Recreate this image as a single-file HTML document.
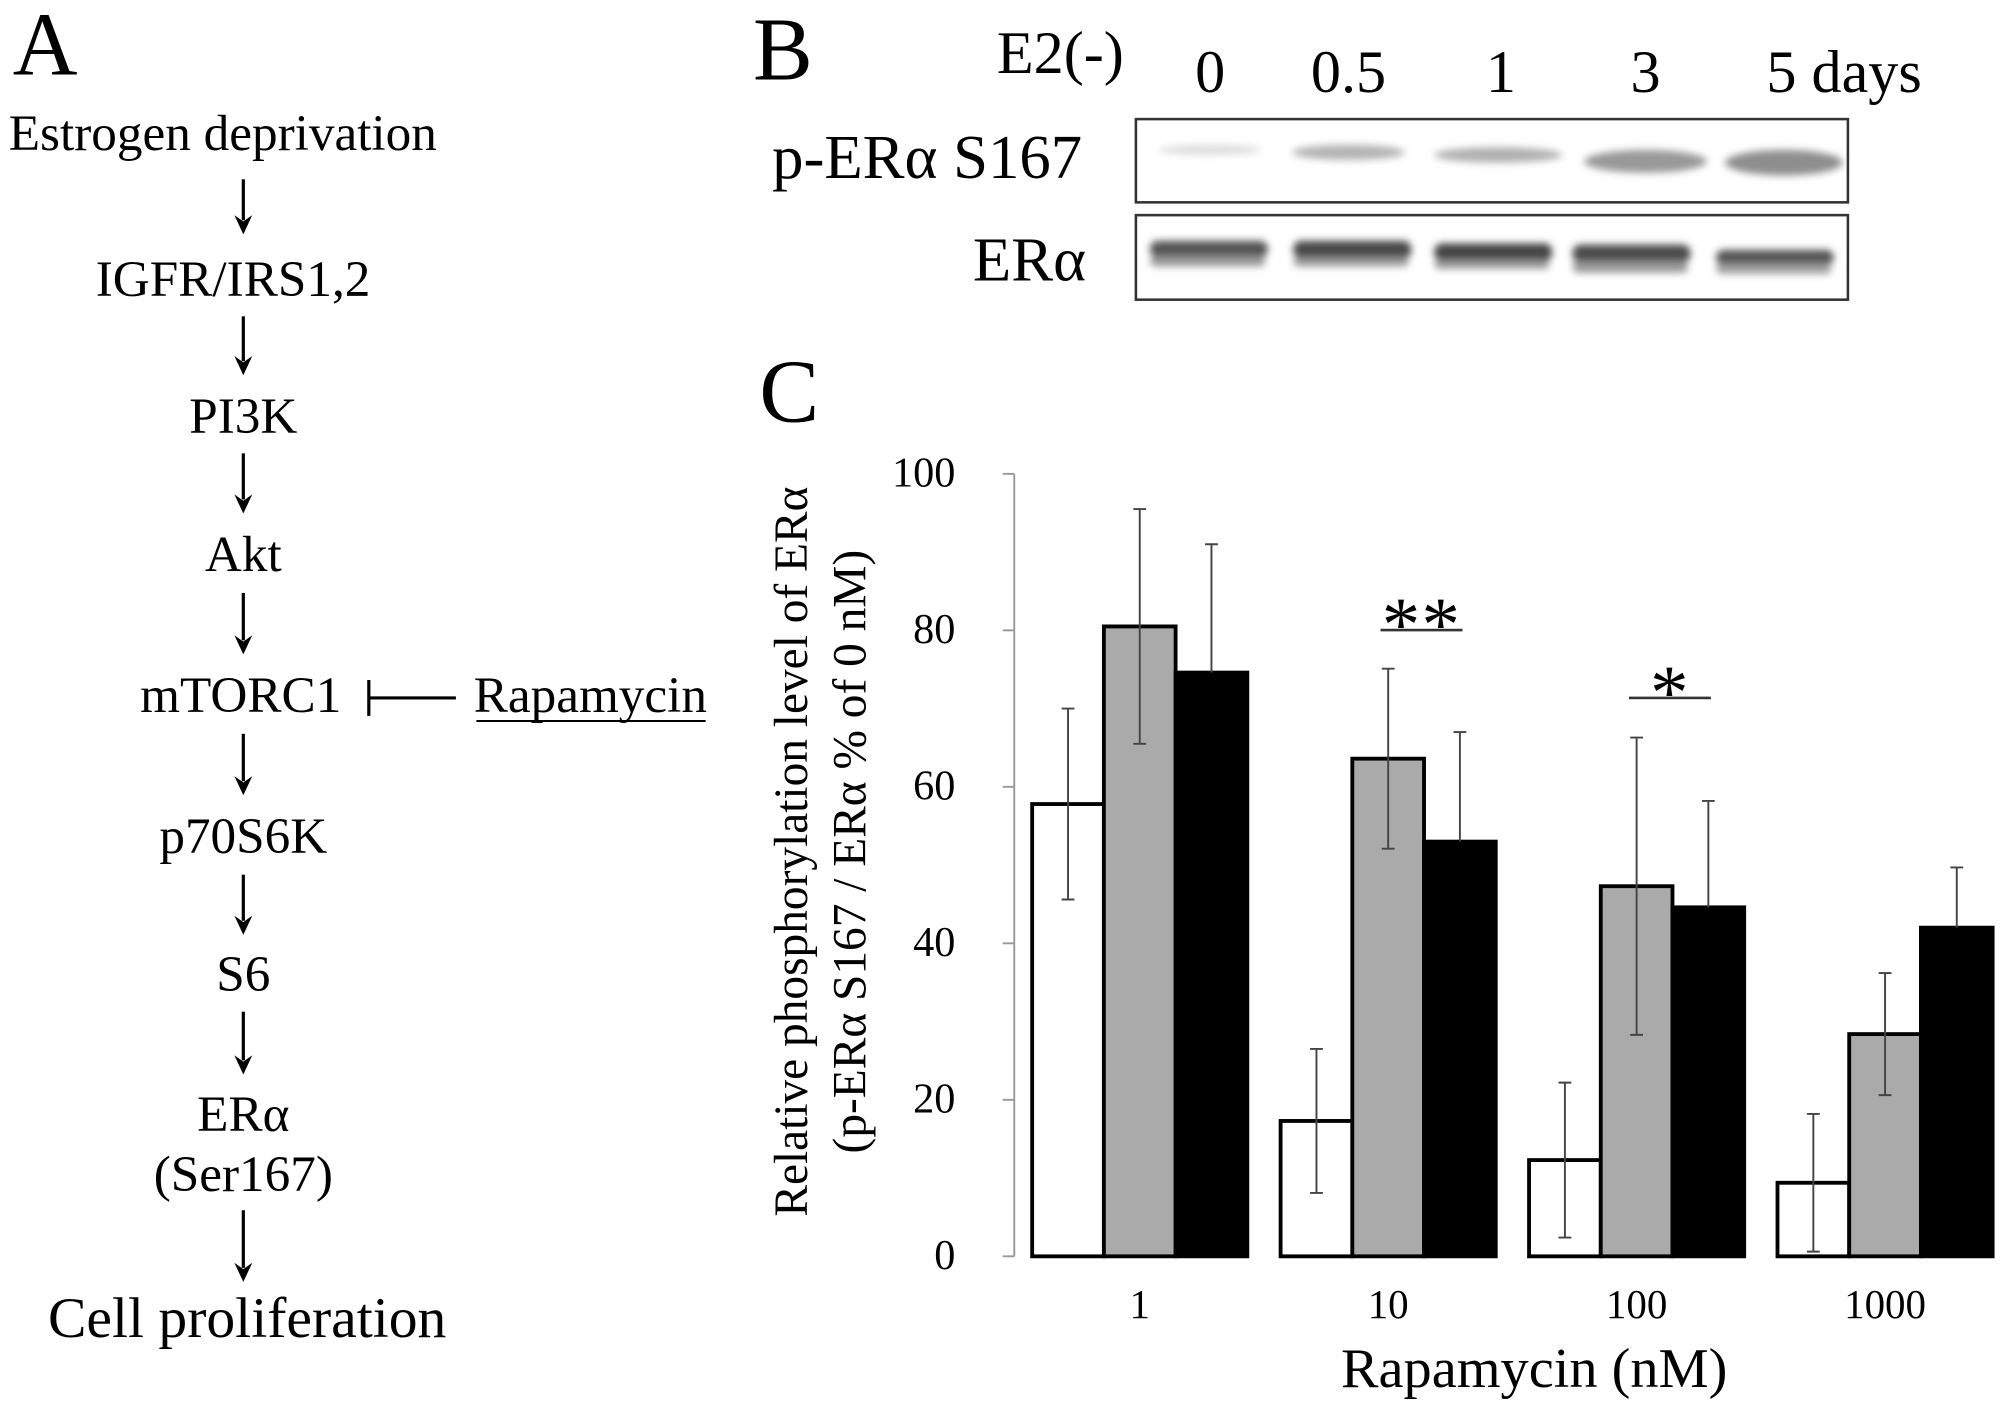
<!DOCTYPE html>
<html><head><meta charset="utf-8"><style>
html,body{margin:0;padding:0;background:#fff;}
svg{display:block;}
svg text{font-family:"Liberation Serif","Times New Roman",serif;}
</style></head><body>
<svg width="2008" height="1410" viewBox="0 0 1568 1101" preserveAspectRatio="none" xmlns="http://www.w3.org/2000/svg" font-family="Liberation Serif, serif">
<defs>
<filter id="blur" x="-20%" y="-50%" width="140%" height="200%"><feGaussianBlur stdDeviation="3"/></filter>
</defs>
<!-- Panel A -->
<g font-size="40" text-anchor="middle">
<text x="10" y="58" font-size="70" text-anchor="start">A</text>
<text x="174" y="117">Estrogen deprivation</text>
<text x="182" y="231">IGFR/IRS1,2</text>
<text x="190" y="338">PI3K</text>
<text x="190" y="446">Akt</text>
<text x="188" y="556">mTORC1</text>
<text x="190" y="666">p70S6K</text>
<text x="190" y="774">S6</text>
<text x="190" y="883">ERα</text>
<text x="190" y="930">(Ser167)</text>
<text x="193" y="1044" font-size="45">Cell proliferation</text>
<g stroke="#000" stroke-width="2.5">
<line x1="190" y1="140" x2="190" y2="172"/><line x1="190" y1="247" x2="190" y2="282"/>
<line x1="190" y1="354" x2="190" y2="390"/><line x1="190" y1="463" x2="190" y2="500"/>
<line x1="190" y1="573" x2="190" y2="610"/><line x1="190" y1="683" x2="190" y2="719"/>
<line x1="190" y1="790" x2="190" y2="828"/><line x1="190" y1="945" x2="190" y2="990"/>
</g>
<g fill="#000" stroke="none">
<path d="M183,168 L190,183 L197,168 L190,173 Z"/><path d="M183,278 L190,293 L197,278 L190,283 Z"/>
<path d="M183,386 L190,401 L197,386 L190,391 Z"/><path d="M183,496 L190,511 L197,496 L190,501 Z"/>
<path d="M183,606 L190,621 L197,606 L190,611 Z"/><path d="M183,715 L190,730 L197,715 L190,720 Z"/>
<path d="M183,824 L190,839 L197,824 L190,829 Z"/><path d="M183,986 L190,1001 L197,986 L190,991 Z"/>
</g>
<g stroke="#000" stroke-width="2.5">
<line x1="288" y1="545" x2="356" y2="545"/><line x1="288" y1="531" x2="288" y2="559"/>
</g>
<text x="461" y="556">Rapamycin</text>
<line x1="372" y1="563" x2="551" y2="563" stroke="#000" stroke-width="1.5"/>
</g>
<!-- Panel B -->
<g>
<text x="588" y="62" font-size="70">B</text>
<g font-size="47" text-anchor="middle">
<text x="828" y="57">E2(-)</text>
<text x="945" y="72">0</text>
<text x="1053" y="72">0.5</text>
<text x="1172" y="72">1</text>
<text x="1285" y="72">3</text>
<text x="1440" y="72">5 days</text>
</g>
<text x="845" y="139" font-size="49" text-anchor="end">p-ERα S167</text>
<text x="848" y="219" font-size="49" text-anchor="end">ERα</text>
<rect x="887" y="93" width="556" height="65" fill="#fff" stroke="#333" stroke-width="2"/>
<rect x="887" y="168" width="556" height="66" fill="#fff" stroke="#333" stroke-width="2"/>
<g filter="url(#blur)">
<ellipse cx="945" cy="117" rx="40" ry="4" fill="#ddd"/>
<ellipse cx="1053" cy="119" rx="44" ry="6" fill="#b4b4b4"/>
<ellipse cx="1170" cy="121" rx="50" ry="6" fill="#b0b0b0"/>
<ellipse cx="1285" cy="126" rx="48" ry="9" fill="#999"/>
<ellipse cx="1393" cy="127" rx="46" ry="10" fill="#8e8e8e"/>
</g>
<g filter="url(#blur)">
<rect x="898" y="188" width="92" height="13" rx="6" fill="#555"/><rect x="898" y="200" width="90" height="8" rx="4" fill="#999"/>
<rect x="1010" y="188" width="92" height="14" rx="6" fill="#4a4a4a"/><rect x="1010" y="201" width="90" height="7" rx="4" fill="#999"/>
<rect x="1120" y="190" width="92" height="14" rx="6" fill="#444"/><rect x="1120" y="203" width="90" height="7" rx="4" fill="#999"/>
<rect x="1228" y="191" width="92" height="14" rx="6" fill="#4c4c4c"/><rect x="1228" y="204" width="90" height="9" rx="4" fill="#999"/>
<rect x="1340" y="195" width="92" height="12" rx="6" fill="#555"/><rect x="1340" y="206" width="90" height="8" rx="4" fill="#a0a0a0"/>
</g>
</g>
<!-- Panel C -->
<text x="593" y="329" font-size="70">C</text>
<g id="chart"></g>
<script>
const categories = ["1", "10", "100", "1000"];
const whiteVals = [57.8, 17.3, 12.3, 9.4];
const whiteErr = [12.2, 9.2, 9.9, 8.8];
const grayVals = [80.5, 63.6, 47.3, 28.4];
const grayErr = [15.0, 11.5, 19.0, 7.8];
const blackVals = [74.6, 53.0, 44.6, 42.0];
const blackErr = [16.4, 14.0, 13.6, 7.7];
const yTicks = [0, 20, 40, 60, 80, 100];
const sigLabels = ["", "**", "*", ""];

(function(){
  const NS = "http://www.w3.org/2000/svg";
  const g = document.getElementById('chart');
  const y0 = 981, y100 = 370;
  const yScale = v => y0 - (y0 - y100) * v / 100;
  const groupX = i => 806 + i * 194;
  const bw = 56;
  function mk(tag, attrs, parent){
    const e = document.createElementNS(NS, tag);
    for (const k in attrs) e.setAttribute(k, attrs[k]);
    (parent || g).appendChild(e);
    return e;
  }
  const axis = mk('line', {x1:792, y1:y100, x2:792, y2:y0, stroke:'#999', 'stroke-width':1.5});
  
  
  yTicks.forEach(t => {
    const y = yScale(t);
    const tk = mk('line', {x1:783, y1:y, x2:792, y2:y, stroke:'#999', 'stroke-width':1.5});
    
    
    const lb = mk('text', {x:746, y:y+10, 'font-size':33, 'text-anchor':'end'});
    lb.textContent = t;
    
    
  });
  const series = [[whiteVals, whiteErr, '#fff'], [grayVals, grayErr, '#aaa'], [blackVals, blackErr, '#000']];
  categories.forEach((c, i) => {
    series.forEach((s, j) => {
      const v = s[0][i], e = s[1][i];
      const x = groupX(i) + j * bw;
      const r = mk('rect', {x:x, y:yScale(v), width:bw, height:y0 - yScale(v), fill:s[2], stroke:'#000', 'stroke-width':3});
      
      
      const cx = x + bw/2;
      const lo = j === 2 ? v : Math.max(0, v - e);
      let d = 'M'+cx+','+yScale(v+e)+' V'+yScale(lo)+' M'+(cx-5)+','+yScale(v+e)+' h10';
      if (j !== 2) d += ' M'+(cx-5)+','+yScale(lo)+' h10';
      const eb = mk('path', {d:d, stroke:'#444', 'stroke-width':1.5, fill:'none'});
      
      
    });
    const lb = mk('text', {x:groupX(i) + 84, y:1029, 'font-size':32, 'text-anchor':'middle'});
    lb.textContent = c;
    
    
    if (sigLabels[i]) {
      const ly = i === 1 ? 492 : 545;
      const sx = groupX(i) + 78;
      const sl = mk('line', {x1:sx, y1:ly, x2:sx+64, y2:ly, stroke:'#333', 'stroke-width':2});
      
      
      const st = mk('text', {x:sx+32, y:ly+16, 'font-size':60, 'text-anchor':'middle', 'letter-spacing':1});
      st.textContent = sigLabels[i];
      
      
    }
  });
  const xt = mk('text', {x:1198, y:1083, 'font-size':44, 'text-anchor':'middle'});
  xt.textContent = 'Rapamycin (nM)';
  
  
  const yt = mk('text', {transform:'translate(630,665) rotate(-90)', 'font-size':37, 'text-anchor':'middle'});
  yt.textContent = 'Relative phosphorylation level of ERα';
  
  
  const yt2 = mk('text', {transform:'translate(676,665) rotate(-90)', 'font-size':37, 'text-anchor':'middle'});
  yt2.textContent = '(p-ERα S167 / ERα % of 0 nM)';
  
  
})();
</script>
</svg>
</body></html>
